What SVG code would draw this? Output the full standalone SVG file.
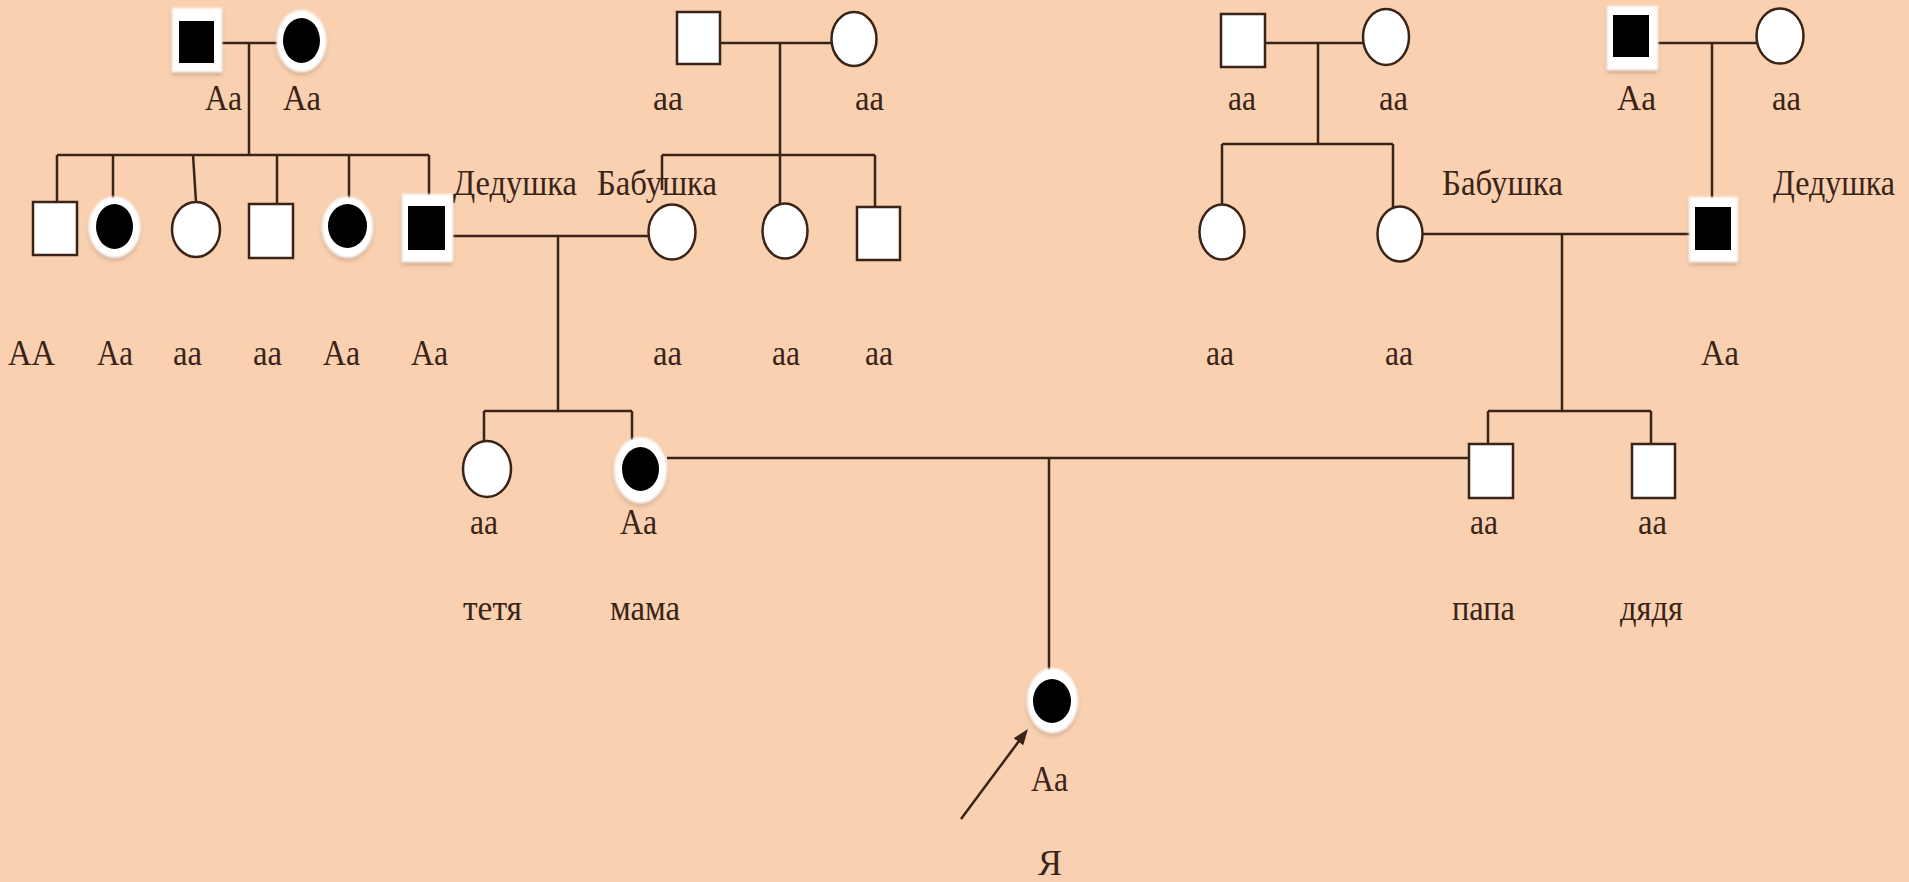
<svg xmlns="http://www.w3.org/2000/svg" width="1909" height="882" viewBox="0 0 1909 882">
  <defs>
    <style>
      .ln { stroke: #3a2418; stroke-width: 2.5; fill: none; }
      .open { fill: #ffffff; stroke: #3a2418; stroke-width: 2.5; }
      .halo { fill: #ffffff; filter: url(#glow); }
      .aff { fill: #000000; }
      .t { font-family: "Liberation Serif", "Times New Roman", serif; font-size: 36px; fill: #3a2418; }
    </style>
    <!-- soft white rim with a faint shadow under affected individuals -->
    <filter id="glow" x="-30%" y="-30%" width="160%" height="160%">
      <feGaussianBlur in="SourceAlpha" stdDeviation="2" result="b"/>
      <feOffset in="b" dy="3" result="o"/>
      <feFlood flood-color="#9a7a66" flood-opacity="0.45"/>
      <feComposite in2="o" operator="in" result="s"/>
      <feGaussianBlur in="SourceGraphic" stdDeviation="1" result="w"/>
      <feMerge><feMergeNode in="s"/><feMergeNode in="w"/></feMerge>
    </filter>
    <marker id="head" markerUnits="userSpaceOnUse" markerWidth="16" markerHeight="12" refX="6" refY="6" orient="auto">
      <path d="M0,0 L16,6 L0,12 z" fill="#3a2418"/>
    </marker>
  </defs>

  <rect width="1909" height="882" fill="#f9d0b0"/>

  <g id="connectors" class="ln">
    <!-- generation I, left family -->
    <path d="M222,43 H277 M249,43 V155 M57,155 H429 M57,155 V202 M113,155 V200 M193,155 L196,202 M277,155 V204 M349,155 V200 M429,155 V196"/>
    <!-- generation I, second family -->
    <path d="M720,43 H832 M780,43 V155 M662,155 H875 M662,155 V190 M780,155 V205 M875,155 V207"/>
    <!-- maternal grandparents -->
    <path d="M453,236 H648 M558,236 V411 M484,411 H632 M484,411 V441 M632,411 V440"/>
    <!-- generation I, third family -->
    <path d="M1265,43 H1363 M1318,43 V144 M1222,144 H1393 M1222,144 V205 M1393,144 V207"/>
    <!-- generation I, fourth family -->
    <path d="M1658,43 H1757 M1712,43 V198"/>
    <!-- paternal grandparents -->
    <path d="M1423,234 H1690 M1562,234 V411 M1488,411 H1651 M1488,411 V444 M1651,411 V444"/>
    <!-- parents -->
    <path d="M667,458 H1469 M1049,458 V670"/>
    <!-- proband pointer -->
    <path d="M961,819 L1022,737" marker-end="url(#head)"/>
  </g>

  <!-- generation I -->
  <g id="n-i1">
    <rect class="halo" x="172" y="8" width="50" height="64"/>
    <rect class="aff" x="179" y="21" width="35" height="42"/>
    <text class="t" x="205" y="110" textLength="37" lengthAdjust="spacingAndGlyphs">Aa</text>
  </g>
  <g id="n-i2">
    <ellipse class="halo" cx="301.5" cy="41" rx="25" ry="31"/>
    <ellipse class="aff" cx="301.5" cy="40.5" rx="18.5" ry="22.5"/>
    <text class="t" x="283" y="110" textLength="38" lengthAdjust="spacingAndGlyphs">Aa</text>
  </g>
  <g id="n-i3">
    <rect class="open" x="677" y="12" width="43" height="52"/>
    <text class="t" x="653" y="110" textLength="30" lengthAdjust="spacingAndGlyphs">aa</text>
  </g>
  <g id="n-i4">
    <ellipse class="open" cx="854" cy="39" rx="22.5" ry="27"/>
    <text class="t" x="855" y="110" textLength="29" lengthAdjust="spacingAndGlyphs">aa</text>
  </g>
  <g id="n-i5">
    <rect class="open" x="1221" y="14" width="44" height="53"/>
    <text class="t" x="1228" y="110" textLength="28" lengthAdjust="spacingAndGlyphs">aa</text>
  </g>
  <g id="n-i6">
    <ellipse class="open" cx="1386" cy="37" rx="23" ry="28"/>
    <text class="t" x="1379" y="110" textLength="29" lengthAdjust="spacingAndGlyphs">aa</text>
  </g>
  <g id="n-i7">
    <rect class="halo" x="1607" y="6" width="51" height="64"/>
    <rect class="aff" x="1613" y="15" width="36" height="42"/>
    <text class="t" x="1617" y="110" textLength="39" lengthAdjust="spacingAndGlyphs">Aa</text>
  </g>
  <g id="n-i8">
    <ellipse class="open" cx="1780" cy="36" rx="23.5" ry="27.5"/>
    <text class="t" x="1772" y="110" textLength="29" lengthAdjust="spacingAndGlyphs">aa</text>
  </g>

  <!-- generation II -->
  <g id="n-ii1">
    <rect class="open" x="33" y="202" width="44" height="53"/>
    <text class="t" x="8" y="365" textLength="47" lengthAdjust="spacingAndGlyphs">AA</text>
  </g>
  <g id="n-ii2">
    <ellipse class="halo" cx="114.5" cy="227" rx="26" ry="30.5"/>
    <ellipse class="aff" cx="114.5" cy="226.5" rx="18.5" ry="22.5"/>
    <text class="t" x="97" y="365" textLength="36" lengthAdjust="spacingAndGlyphs">Aa</text>
  </g>
  <g id="n-ii3">
    <ellipse class="open" cx="196" cy="229.5" rx="24" ry="27.5"/>
    <text class="t" x="173" y="365" textLength="29" lengthAdjust="spacingAndGlyphs">aa</text>
  </g>
  <g id="n-ii4">
    <rect class="open" x="249" y="204" width="44" height="54"/>
    <text class="t" x="253" y="365" textLength="29" lengthAdjust="spacingAndGlyphs">aa</text>
  </g>
  <g id="n-ii5">
    <ellipse class="halo" cx="347.5" cy="227" rx="25.5" ry="30.5"/>
    <ellipse class="aff" cx="347.5" cy="226" rx="19.5" ry="22"/>
    <text class="t" x="323" y="365" textLength="37" lengthAdjust="spacingAndGlyphs">Aa</text>
  </g>
  <g id="n-ii6">
    <rect class="halo" x="402" y="194" width="51" height="68"/>
    <rect class="aff" x="408" y="206" width="37" height="44"/>
    <text class="t" x="453" y="195" textLength="124" lengthAdjust="spacingAndGlyphs">Дедушка</text>
    <text class="t" x="411" y="365" textLength="37" lengthAdjust="spacingAndGlyphs">Aa</text>
  </g>
  <g id="n-ii7">
    <ellipse class="open" cx="672" cy="232" rx="23.5" ry="27.5"/>
    <text class="t" x="597" y="195" textLength="120" lengthAdjust="spacingAndGlyphs">Бабушка</text>
    <text class="t" x="653" y="365" textLength="29" lengthAdjust="spacingAndGlyphs">aa</text>
  </g>
  <g id="n-ii8">
    <ellipse class="open" cx="785" cy="231" rx="22.5" ry="27.5"/>
    <text class="t" x="772" y="365" textLength="28" lengthAdjust="spacingAndGlyphs">aa</text>
  </g>
  <g id="n-ii9">
    <rect class="open" x="857" y="207" width="43" height="53"/>
    <text class="t" x="865" y="365" textLength="28" lengthAdjust="spacingAndGlyphs">aa</text>
  </g>
  <g id="n-ii10">
    <ellipse class="open" cx="1222" cy="232" rx="22.5" ry="27.5"/>
    <text class="t" x="1206" y="365" textLength="28" lengthAdjust="spacingAndGlyphs">aa</text>
  </g>
  <g id="n-ii11">
    <ellipse class="open" cx="1400" cy="234" rx="22.5" ry="27.5"/>
    <text class="t" x="1442" y="195" textLength="121" lengthAdjust="spacingAndGlyphs">Бабушка</text>
    <text class="t" x="1385" y="365" textLength="28" lengthAdjust="spacingAndGlyphs">aa</text>
  </g>
  <g id="n-ii12">
    <rect class="halo" x="1689" y="197" width="49" height="65"/>
    <rect class="aff" x="1695" y="207" width="36" height="43"/>
    <text class="t" x="1773" y="195" textLength="122" lengthAdjust="spacingAndGlyphs">Дедушка</text>
    <text class="t" x="1701" y="365" textLength="38" lengthAdjust="spacingAndGlyphs">Aa</text>
  </g>

  <!-- generation III -->
  <g id="n-iii1">
    <ellipse class="open" cx="487" cy="469" rx="24" ry="28"/>
    <text class="t" x="470" y="534" textLength="28" lengthAdjust="spacingAndGlyphs">aa</text>
    <text class="t" x="463" y="620" textLength="59" lengthAdjust="spacingAndGlyphs">тетя</text>
  </g>
  <g id="n-iii2">
    <ellipse class="halo" cx="640.5" cy="470" rx="26.5" ry="33"/>
    <ellipse class="aff" cx="640.5" cy="469" rx="18.5" ry="22"/>
    <text class="t" x="620" y="534" textLength="37" lengthAdjust="spacingAndGlyphs">Aa</text>
    <text class="t" x="610" y="620" textLength="70" lengthAdjust="spacingAndGlyphs">мама</text>
  </g>
  <g id="n-iii3">
    <rect class="open" x="1469" y="444" width="44" height="54"/>
    <text class="t" x="1470" y="534" textLength="28" lengthAdjust="spacingAndGlyphs">aa</text>
    <text class="t" x="1452" y="620" textLength="63" lengthAdjust="spacingAndGlyphs">папа</text>
  </g>
  <g id="n-iii4">
    <rect class="open" x="1632" y="444" width="43" height="54"/>
    <text class="t" x="1638" y="534" textLength="29" lengthAdjust="spacingAndGlyphs">aa</text>
    <text class="t" x="1620" y="620" textLength="63" lengthAdjust="spacingAndGlyphs">дядя</text>
  </g>

  <!-- generation IV: proband -->
  <g id="n-iv1">
    <ellipse class="halo" cx="1052.5" cy="700.5" rx="25.5" ry="32.5"/>
    <ellipse class="aff" cx="1052" cy="701" rx="19" ry="22"/>
    <text class="t" x="1031" y="791" textLength="37" lengthAdjust="spacingAndGlyphs">Aa</text>
    <text class="t" x="1038" y="875" textLength="24" lengthAdjust="spacingAndGlyphs">Я</text>
  </g>
</svg>
